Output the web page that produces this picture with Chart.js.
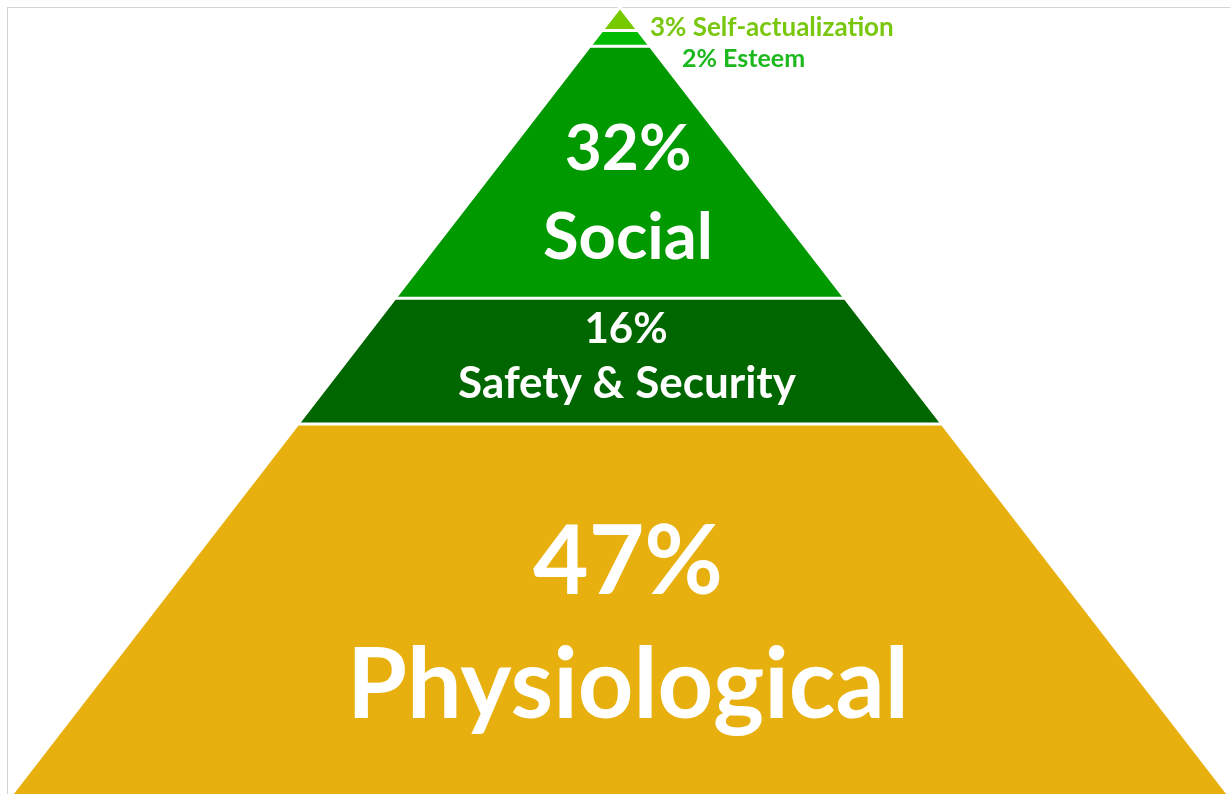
<!DOCTYPE html>
<html><head><meta charset="utf-8">
<script src="https://cdn.jsdelivr.net/npm/chart.js@4.4.1/dist/chart.umd.min.js"></script>
<style>
html,body{margin:0;padding:0;background:#fff;}
#wrap{position:relative;width:1230px;height:794px;overflow:hidden;}
#frame{position:absolute;left:7px;top:7px;right:0;bottom:0;border-top:1px solid #d4d4d4;border-left:1px solid #d4d4d4;}
canvas{position:absolute;left:0;top:0;}
</style></head>
<body><div id="wrap"><div id="frame"></div><canvas id="c" width="1230" height="794"></canvas></div>
<script>
// Levels from the base of the pyramid to its apex
const categories = ["Physiological", "Safety & Security", "Social", "Esteem", "Self-actualization"];
const shares = [47, 16, 32, 2, 3];
const fillColors = ["#e8b00e", "#006600", "#009900", "#00bb00", "#77c900"];
const labelColors = ["#ffffff", "#ffffff", "#ffffff", "#1db81d", "#7ac70f"];

const total = shares.reduce((a, b) => a + b, 0);
const datasets = [];
let base = 0;
shares.forEach((v, i) => {
  const b = base / total * 100, t = (base + v) / total * 100;
  const wb = 1 - b / 100, wt = 1 - t / 100;
  const pts = t >= 100
    ? [{x: -wb, y: b}, {x: 0, y: t}, {x: wb, y: b}]
    : [{x: -wb, y: b}, {x: -wt, y: t}, {x: wt, y: t}, {x: wb, y: b}];
  datasets.push({
    label: categories[i], data: pts, showLine: true, pointRadius: 0,
    backgroundColor: fillColors[i], borderColor: "#ffffff", borderWidth: 3,
    fill: {value: b}, tension: 0, clip: false, order: i
  });
  base += v;
});

const textPlugin = {
  id: "levelText",
  afterDatasetsDraw(chart) {
    const ctx = chart.ctx;
    const font = (s) => "bold " + s + "px Lato, 'DejaVu Sans', sans-serif";
    const put = (txt, x, y, size, color, align) => {
      ctx.font = font(size); ctx.fillStyle = color; ctx.textAlign = align || "center";
      ctx.textBaseline = "alphabetic"; ctx.fillText(txt, x, y);
    };
    ctx.save();
    put(shares[0] + "%", 628, 594, 96, labelColors[0]);
    put(categories[0], 628, 718, 97, labelColors[0]);
    put(shares[1] + "%", 626, 343, 42, labelColors[1]);
    put(categories[1], 627, 398, 44, labelColors[1]);
    put(shares[2] + "%", 628, 170, 64, labelColors[2]);
    put(categories[2], 628, 259, 65, labelColors[2]);
    put(shares[4] + "% " + categories[4], 650, 36, 26, labelColors[4], "left");
    put(shares[3] + "% " + categories[3], 682, 67, 25, labelColors[3], "left");
    ctx.restore();
  }
};

new Chart(document.getElementById("c"), {
  type: "scatter",
  data: {datasets},
  options: {
    responsive: false, animation: false,
    layout: {padding: {left: 12, right: 2, top: 7, bottom: 0}},
    scales: {
      x: {type: "linear", min: -1, max: 1, display: false},
      y: {type: "linear", min: 0, max: 100, display: false}
    },
    plugins: {legend: {display: false}, tooltip: {enabled: false}}
  },
  plugins: [textPlugin]
});
</script></body></html>
